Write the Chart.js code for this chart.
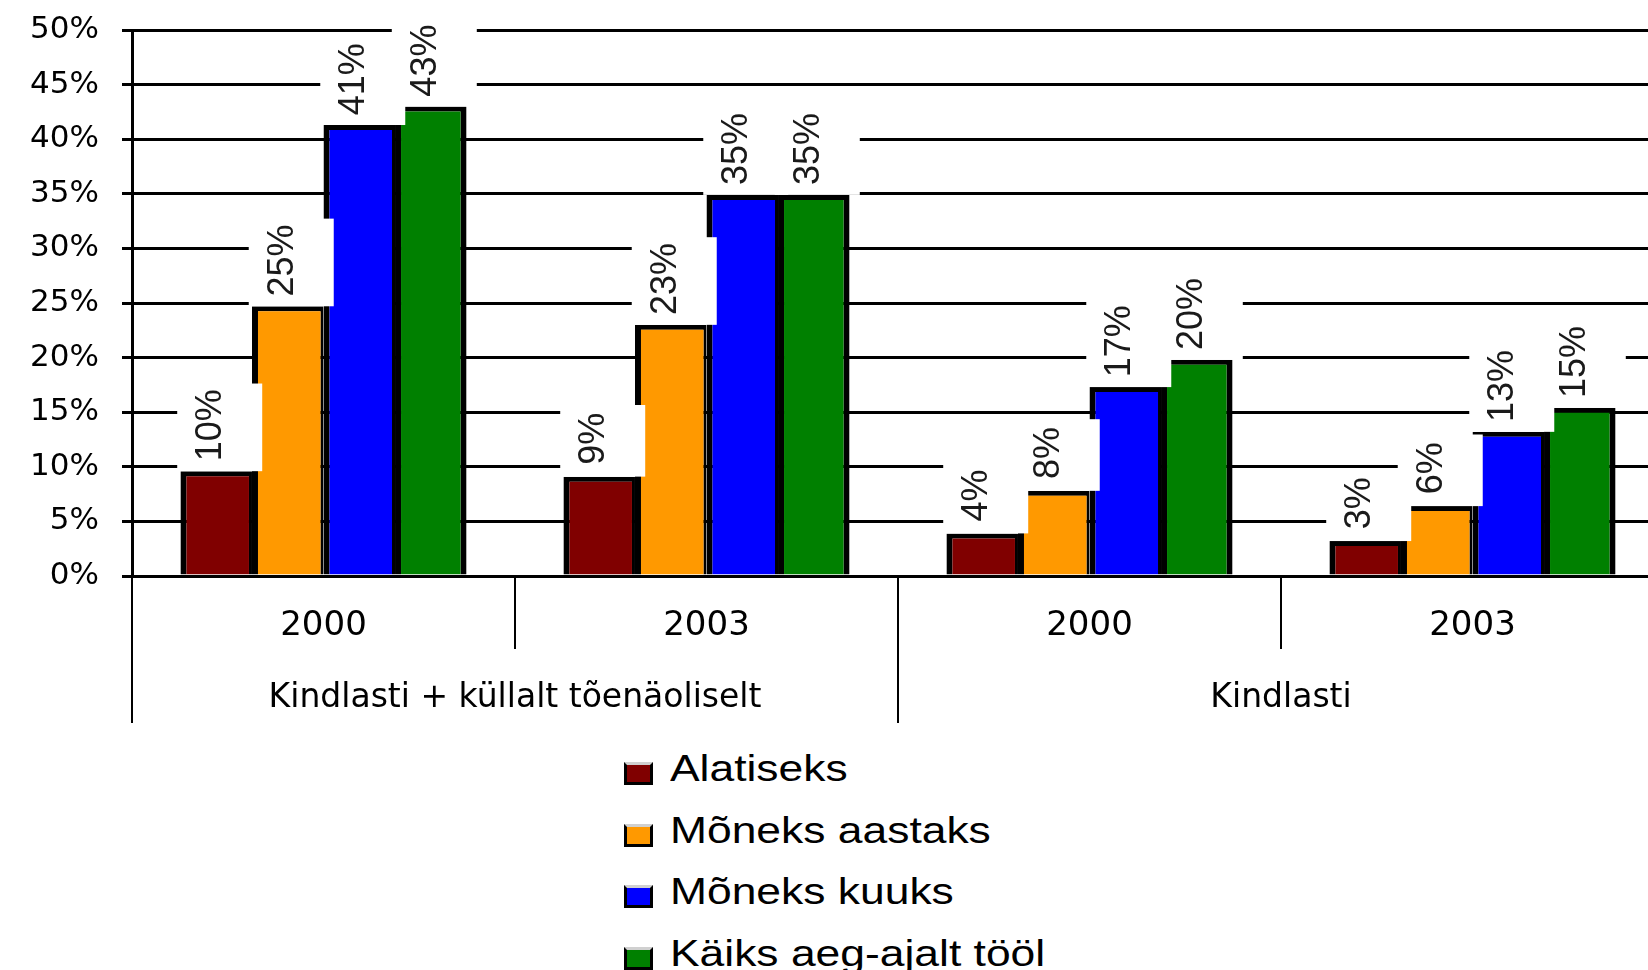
<!DOCTYPE html>
<html>
<head>
<meta charset="utf-8">
<script src="https://cdn.jsdelivr.net/npm/chart.js@4/dist/chart.umd.min.js"></script>
<style>
  html, body { margin: 0; padding: 0; background: #fff; overflow: hidden; width: 1648px; height: 970px; }
  #wrap { position: absolute; left: 0; top: 0; width: 1664px; height: 733px; }
  #legend { position: absolute; left: 624px; top: 750px; }
  .item { position: absolute; left: 0; height: 40px; white-space: nowrap; }
  .sw { position: absolute; left: 0; top: 12px; width: 23px; height: 17px;
        border: 3px solid #000; border-top-color: #d0d0d0; }
  .tx { position: absolute; left: 46px; top: 0; font-family: "Liberation Sans", Arial, sans-serif;
        font-size: 37px; line-height: 37px; color: #000; transform: scaleX(1.2); transform-origin: 0 0; }
</style>
</head>
<body>
<div id="wrap"><canvas id="c" width="1664" height="733"></canvas></div>
<div id="legend"></div>
<script>
// ---- data ----
const categories = ['2000', '2003', '2000', '2003'];
const groups = ['Kindlasti + küllalt tõenäoliselt', 'Kindlasti'];
const seriesNames = ['Alatiseks', 'Mõneks aastaks', 'Mõneks kuuks', 'Käiks aeg-ajalt tööl'];
const seriesColors = ['#800000', '#FF9900', '#0000FF', '#008000'];
const alatiseks     = [9.6, 9.1, 3.9, 3.2];
const moneksAastaks = [24.7, 23.0, 7.8, 6.4];
const moneksKuuks   = [41.3, 34.9, 17.3, 13.2];
const kaiksTool     = [43.0, 34.9, 19.8, 15.4];
const seriesValues = [alatiseks, moneksAastaks, moneksKuuks, kaiksTool];

// ---- legend (HTML) ----
const legend = document.getElementById('legend');
seriesNames.forEach((name, i) => {
  const it = document.createElement('div');
  it.className = 'item';
  it.style.top = (i * 61.7) + 'px';
  const sw = document.createElement('div');
  sw.className = 'sw';
  sw.style.background = seriesColors[i];
  const tx = document.createElement('div');
  tx.className = 'tx';
  tx.textContent = name;
  it.appendChild(sw); it.appendChild(tx);
  legend.appendChild(it);
});

// ---- value labels with white boxes ----
const boxLabels = {
  id: 'boxLabels',
  afterDatasetsDraw(chart) {
    const ctx = chart.ctx;
    ctx.save();
    ctx.font = '36px "Liberation Sans", Arial, sans-serif';
    chart.data.datasets.forEach((ds, di) => {
      const meta = chart.getDatasetMeta(di);
      meta.data.forEach((bar, i) => {
        const txt = Math.round(ds.data[i]) + '%';
        const tw = ctx.measureText(txt).width;
        const bh = tw * 0.8 + 30;
        const left = bar.x - 39, w = 85;
        const bottom = bar.y;
        ctx.fillStyle = '#fff';
        ctx.fillRect(left, bottom - bh, w, bh);
        ctx.save();
        ctx.translate(bar.x - 5, bottom - bh / 2 - 2);
        ctx.rotate(-Math.PI / 2);
        ctx.fillStyle = '#1a1a1a';
        ctx.textAlign = 'center';
        ctx.textBaseline = 'middle';
        ctx.fillText(txt, 0, 0);
        ctx.restore();
      });
    });
    ctx.restore();
  }
};

const datasets = seriesNames.map((name, i) => ({
  label: name,
  data: seriesValues[i],
  backgroundColor: seriesColors[i],
  borderColor: '#000',
  borderWidth: { top: 5, left: 6, right: (i === 3 ? 6 : 3), bottom: 0 },
  borderSkipped: false,
  categoryPercentage: 0.747,
  barPercentage: 1.0
}));

new Chart(document.getElementById('c'), {
  type: 'bar',
  data: { labels: categories, datasets },
  options: {
    responsive: false,
    animation: false,
    layout: { padding: { top: 30, left: 0, right: 0, bottom: 0 } },
    plugins: { legend: { display: false }, tooltip: { enabled: false }, title: { display: false } },
    scales: {
      x: {
        type: 'category',
        position: 'bottom',
        offset: true,
        grid: { offset: true, drawOnChartArea: false, drawTicks: true, tickLength: 73, color: '#000', lineWidth: 2 },
        border: { display: true, color: '#000', width: 3 },
        ticks: { color: '#000', padding: -43, maxRotation: 0, autoSkip: false,
                 font: { family: '"DejaVu Sans", sans-serif', size: 34 } },
        afterFit(s) { s.height = 67; }
      },
      x2: {
        type: 'category',
        position: 'bottom',
        labels: groups,
        offset: true,
        grid: { offset: true, drawOnChartArea: false, drawTicks: true, tickLength: 80, color: '#000', lineWidth: 2 },
        border: { display: false },
        ticks: { color: '#000', padding: -44, maxRotation: 0, autoSkip: false,
                 font: { family: '"DejaVu Sans", sans-serif', size: 33 } },
        afterFit(s) { s.height = 90; }
      },
      y: {
        min: 0, max: 50,
        grid: { color: '#000', lineWidth: 3, tickLength: 10 },
        border: { display: true, color: '#000', width: 3 },
        ticks: { stepSize: 5, color: '#000', padding: 23,
                 font: { family: '"DejaVu Sans", sans-serif', size: 31 },
                 callback: v => v + '%' },
        afterFit(s) { s.width = 132; s.paddingTop = 0; s.paddingBottom = 0; }
      }
    }
  },
  plugins: [boxLabels]
});
</script>
</body>
</html>
